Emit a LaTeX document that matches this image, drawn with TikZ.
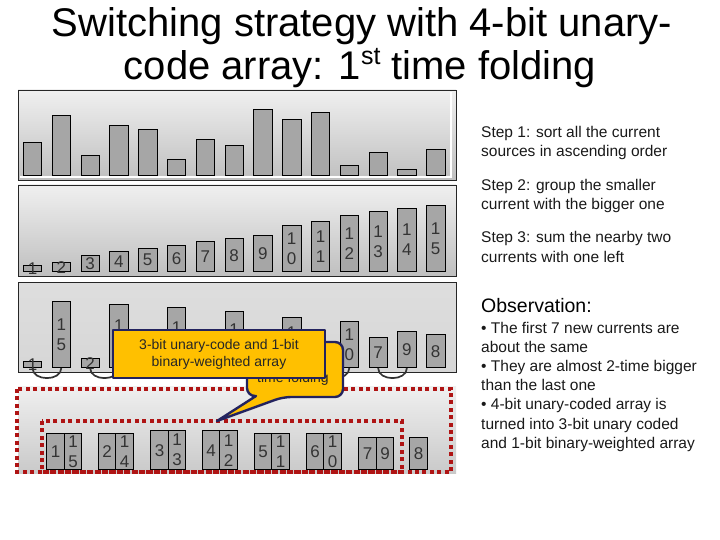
\documentclass[tikz,border=0pt]{standalone}
\usepackage{fontspec}
\setmainfont{Liberation Sans}
\definecolor{gold}{RGB}{255,192,0}
\definecolor{navy}{RGB}{35,35,95}
\definecolor{dred}{RGB}{175,20,20}
\begin{document}
\begin{tikzpicture}[x=1pt,y=-1pt]
\useasboundingbox (0,0) rectangle (720,540);
\tikzset{
  panel/.style={draw=black!85, line width=0.8pt, top color=black!6, bottom color=black!25},
  bar/.style={draw=black, line width=0.7pt, fill=black!35, minimum width=18.5pt, inner sep=0pt, anchor=south},
  pbox/.style={draw=black, line width=0.7pt, fill=black!35, minimum width=17.5pt, inner sep=0pt, anchor=south},
  lbl/.style={font=\fontsize{17}{20}\selectfont, align=center, text=black!80, inner sep=0pt},
  arcline/.style={draw=black!80, line width=1.7pt},
  reddot/.style={draw=dred, line width=4pt, dash pattern=on 4pt off 3.4pt},
  callout/.style={fill=gold, draw=navy, line width=2.4pt, line join=round},
  ctext/.style={font=\fontsize{14}{17}\selectfont, align=center, inner sep=0pt, text=black!85},
  txt/.style={font=\fontsize{15.5}{19}\selectfont, anchor=base west, inner sep=0pt, text=black!90},
  title/.style={font=\fontsize{40}{48}\selectfont, anchor=base, inner sep=0pt}
}
% title
\node[title] (t1) at (362,37) {Switching strategy with 4-bit unary-};
\node[title] (t2) at (360,80) {code array: 1\raisebox{15pt}{\fontsize{25}{25}\selectfont st} time folding};

% panels
\path[panel] (18,90) rectangle (456,180);
\draw[white, line width=1.2pt] (451,92) -- (451,177) -- (20,177);
\path[panel] (18,185) rectangle (456,276);
\path[panel, top color=black!13, bottom color=black!16] (18,282) rectangle (456,372);
\path[panel, draw=none, top color=black!6, bottom color=black!21] (18,386) rectangle (456,473);

% panel 1 : unsorted
\foreach \i/\h in {1/33,2/60,3/20,4/50,5/46,6/16,7/36,8/30,9/66,10/56,11/63,12/10,13/23,14/6,15/26}
  \node[bar, minimum height=\h pt] (pa\i) at ({32.5+28.8*(\i-1)},176) {};

% panel 2 : sorted
\foreach \i/\h/\t in {1/6/1,2/9/2,3/16/3,4/20/4,5/23/5,6/26/6,7/30/7,8/33/8,9/36/9,10/46/{1\\0},11/50/{1\\1},12/56/{1\\2},13/60/{1\\3},14/63/{1\\4},15/66/{1\\5}}
  \node[bar, minimum height=\h pt, label={[lbl]center:{\t}}] (pb\i) at ({32.5+28.8*(\i-1)},272) {};

% panel 3 : grouped (only the parts of labels not hidden by the callouts)
\foreach \i/\h/\t in {1/6/1,2/66/{1\\5},3/9/2,5/16/{},7/20/{},9/23/{},11/26/{},12/46/{1\\0},13/30/7,14/36/9,15/33/8}
  \node[bar, minimum height=\h pt, label={[lbl]center:{\t}}] (pc\i) at ({32.5+28.8*(\i-1)},368) {};
\foreach \i/\h in {4/63,6/60,8/56,10/50}
  \node[bar, minimum height=\h pt, label={[lbl, yshift=10pt]center:1}] (pc\i) at ({32.5+28.8*(\i-1)},368) {};
\foreach \a/\b in {1/2,3/4,5/6,7/8,9/10,11/12,13/14}
  \draw[arcline] (pc\a.south) to[out=-90,in=-90,looseness=1.2] (pc\b.south);

% panel 4 : summed
\foreach \n/\x/\h/\t in {d1/55.5/36/1,d2/73/36/{1\\5},d3/107/36/2,d4/124.5/36/{1\\4},d5/159.5/39/3,d6/177/39/{1\\3},d7/211/39/4,d8/228.5/39/{1\\2},d9/263/36/5,d10/280.5/36/{1\\1},d11/315/36/6,d12/332.5/36/{1\\0},d13/367.5/32/7,d14/385/32/9,d15/418.5/32/8}
  \node[pbox, minimum height=\h pt, label={[lbl]center:{\t}}] (\n) at (\x,470) {};
\draw[reddot] (17,389) rectangle (451,472);
\draw[reddot] (42,421) rectangle (402,472);

% callout 1 (behind)
\coordinate (tip) at (217,421);
\path[callout] (247,370) [rounded corners=8pt] |- (343,342) |- (283,397) [sharp corners] -- (tip) -- (256,396) [rounded corners=8pt] -| (247,370) -- cycle;
\node[ctext, anchor=base] (c1) at (293,382) {time folding};

% callout 2 (front)
\node[callout, minimum width=212pt, minimum height=48pt, inner sep=0pt] (c2) at (219,354) {};
\node[ctext] (c2t) at (c2) {3-bit unary-code and 1-bit\\binary-weighted array};

% right texts
\node[txt] (s1a) at (481,138) {Step 1: sort all the current};
\node[txt] (s1b) at (481,157) {sources in ascending order};
\node[txt] (s2a) at (481,191) {Step 2: group the smaller};
\node[txt] (s2b) at (481,210) {current with the bigger one};
\node[txt] (s3a) at (481,243) {Step 3: sum the nearby two};
\node[txt] (s3b) at (481,262) {currents with one left};
\node[txt, font=\fontsize{19.5}{23}\selectfont, text=black] (ob) at (481,312) {Observation:};
\node[txt] (o1) at (481,333) {\textbullet{} The first 7 new currents are};
\node[txt] (o2) at (481,352) {about the same};
\node[txt] (o3) at (481,371) {\textbullet{} They are almost 2-time bigger};
\node[txt] (o4) at (481,390) {than the last one};
\node[txt] (o5) at (481,409) {\textbullet{} 4-bit unary-coded array is};
\node[txt] (o6) at (481,429) {turned into 3-bit unary coded};
\node[txt] (o7) at (481,448) {and 1-bit binary-weighted array};
\end{tikzpicture}
\end{document}
